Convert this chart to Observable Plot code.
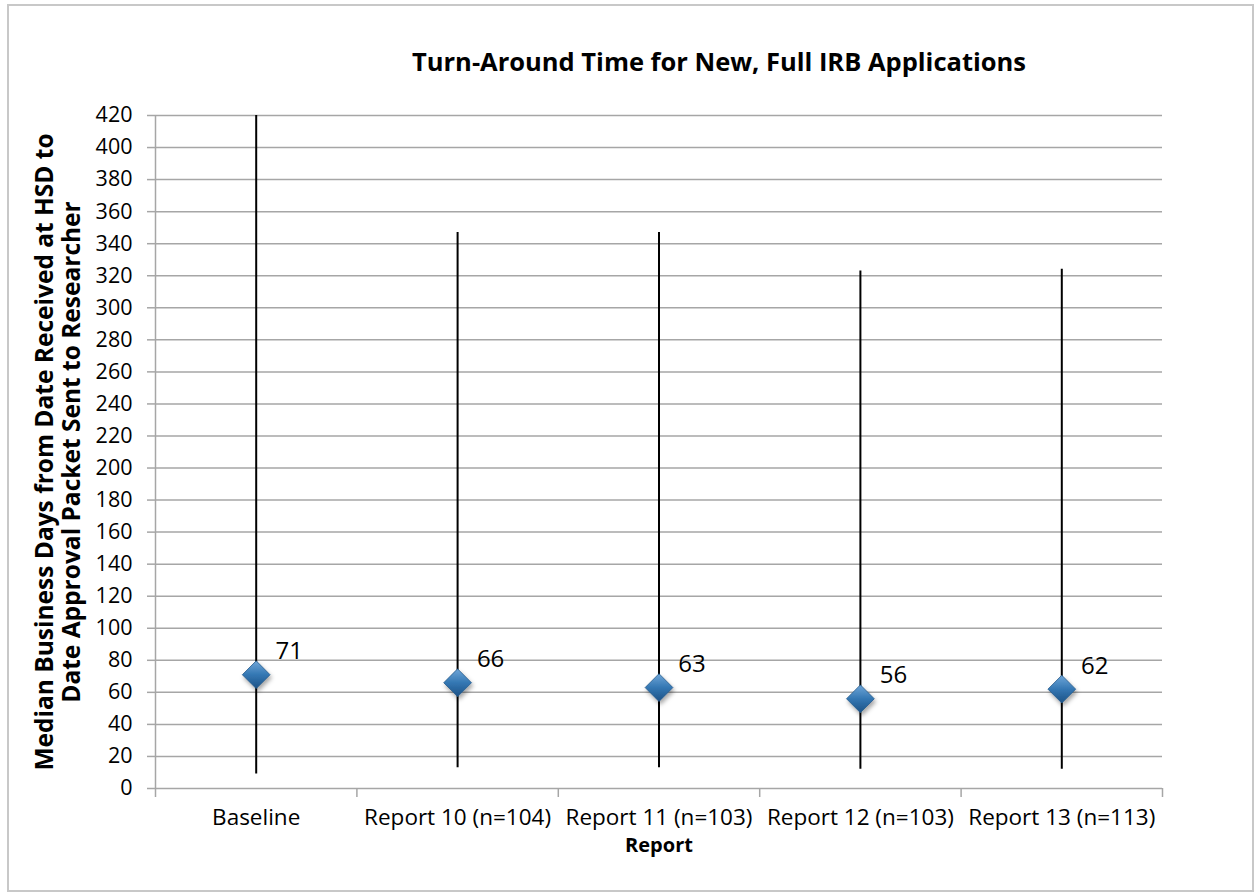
<!DOCTYPE html>
<html>
<head>
<meta charset="utf-8">
<script src="https://cdn.jsdelivr.net/npm/d3@7"></script>
<script src="https://cdn.jsdelivr.net/npm/@observablehq/plot@0.6"></script>
<style>
  html, body { margin: 0; padding: 0; background: #fff; }
  #wrap { position: relative; width: 1257px; height: 894px; }
  #border { position: absolute; left: 7px; top: 4px; width: 1243px; height: 884px; border: 2px solid #c8c8c8; pointer-events: none; }
</style>
</head>
<body>
<div id="wrap"><div id="border"></div></div>
<script>
// ---- data ----
const categories = ["Baseline", "Report 10 (n=104)", "Report 11 (n=103)", "Report 12 (n=103)", "Report 13 (n=113)"];
const medians = [71, 66, 63, 56, 62];
const lows = [9, 13, 13, 12, 12];
const highs = [420, 347, 347, 323, 324];
const yTicks = [0, 20, 40, 60, 80, 100, 120, 140, 160, 180, 200, 220, 240, 260, 280, 300, 320, 340, 360, 380, 400, 420];
const title = "Turn-Around Time for New, Full IRB Applications";
const yTitle = "Median Business Days from Date Received at HSD to\nDate Approval Packet Sent to Researcher";
const xTitle = "Report";

const rows = categories.map((c, i) => ({i, c, median: medians[i], low: lows[i], high: highs[i]}));
const idx = categories.map((c, i) => i);
const bounds = [-0.5, ...idx.map(i => i + 0.5)];

const grid = "#a6a6a6";
const chart = Plot.plot({
  width: 1257,
  height: 894,
  marginLeft: 155,
  marginRight: 95,
  marginTop: 115,
  marginBottom: 106,
  style: {fontFamily: "'Open Sans', sans-serif", fontSize: "21px", color: "#000", background: "transparent"},
  x: {type: "linear", domain: [-0.5, categories.length - 0.5]},
  y: {domain: [0, 420]},
  marks: [
    Plot.ruleY(yTicks, {stroke: grid, strokeWidth: 1.5}),
    Plot.ruleX([-0.5], {stroke: grid, strokeWidth: 1.5}),
    Plot.axisY({ticks: yTicks, tickSize: 8, tickPadding: 15, stroke: grid, strokeWidth: 1.5, label: null, fontSize: 21.5}),
    Plot.axisX({ticks: bounds, tickSize: 9, tickFormat: () => "", stroke: grid, strokeWidth: 1.5, label: null}),
    Plot.axisX({ticks: idx, tickSize: 0, tickPadding: 21, tickFormat: i => categories[i], label: null, fontSize: 22.5}),
    Plot.ruleX(rows, {x: "i", y1: "low", y2: "high", stroke: "#000", strokeWidth: 2}),
    Plot.dot(rows, {x: "i", y: "median", symbol: "diamond2", r: 12.5, fill: "url(#dg)", stroke: "#245b8c", strokeWidth: 0.8}),
    Plot.text(rows, {x: "i", y: "median", text: d => String(d.median), dx: 33, dy: -23, fontSize: 24, fill: "#000"}),
    Plot.text([title], {frameAnchor: "top", lineAnchor: "middle", dx: 60, dy: -53, fontSize: 25.5, fontWeight: "bold", fill: "#000"}),
    Plot.text([yTitle], {frameAnchor: "left", textAnchor: "middle", lineAnchor: "middle", rotate: -90, dx: -98, fontSize: 24.5, fontWeight: "bold", lineHeight: 1.1, fill: "#000"}),
    Plot.text([xTitle], {frameAnchor: "bottom", lineAnchor: "middle", dy: 57, fontSize: 20, fontWeight: "bold", fill: "#000"})
  ]
});

const svg = d3.select(chart);
const defs = svg.insert("defs", ":first-child");
const g = defs.append("linearGradient").attr("id", "dg").attr("x1", 0).attr("y1", 0).attr("x2", 0).attr("y2", 1);
g.append("stop").attr("offset", "0%").attr("stop-color", "#6fa6d8");
g.append("stop").attr("offset", "50%").attr("stop-color", "#3477b3");
g.append("stop").attr("offset", "100%").attr("stop-color", "#1d5286");
const f = defs.append("filter").attr("id", "ds").attr("x", "-50%").attr("y", "-50%").attr("width", "200%").attr("height", "200%");
f.append("feDropShadow").attr("dx", 1.5).attr("dy", 3).attr("stdDeviation", 2).attr("flood-color", "#000").attr("flood-opacity", 0.35);
svg.selectAll("path").filter(function() { return this.getAttribute("fill") === "url(#dg)" || (this.parentNode && this.parentNode.getAttribute("fill") === "url(#dg)"); }).attr("filter", "url(#ds)");

document.getElementById("wrap").prepend(chart);
</script>
</body>
</html>
